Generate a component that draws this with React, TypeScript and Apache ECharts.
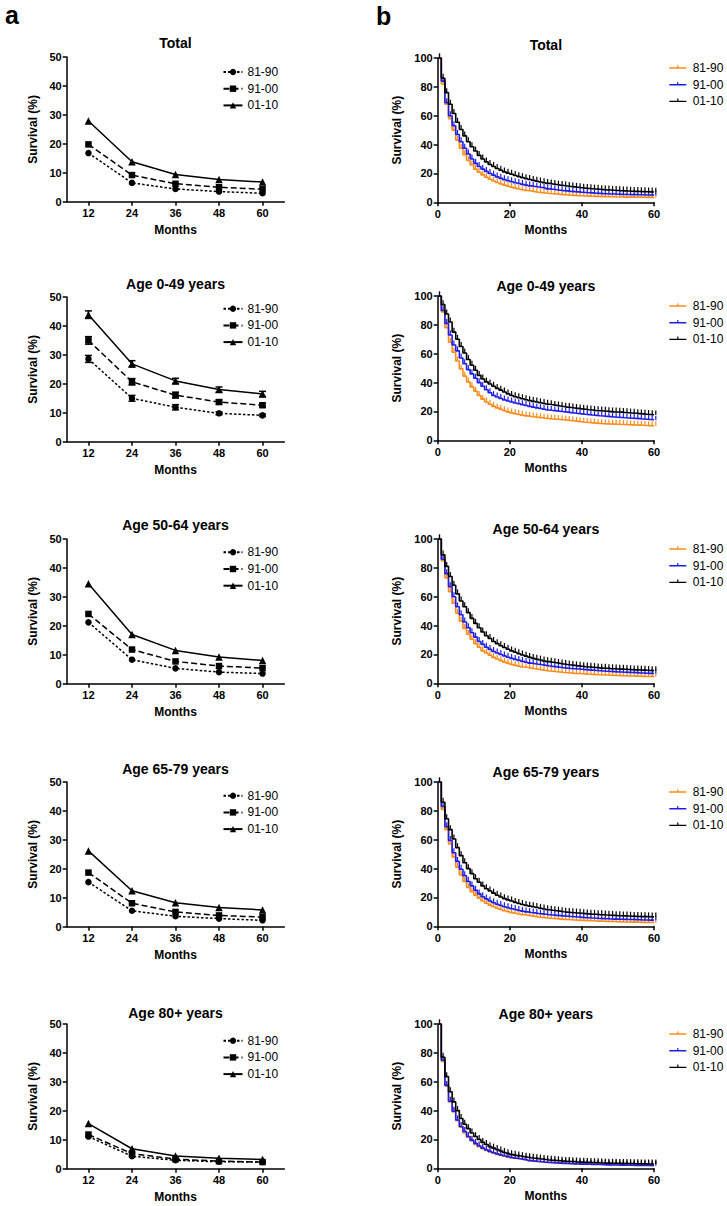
import React, { useEffect, useRef } from "react";
import * as echarts from "echarts";

// ---------- DATA ----------
const PERIODS = ["81-90", "91-00", "01-10"];
const MONTHS_A = ["12", "24", "36", "48", "60"];
const PANEL_TITLES = ["Total", "Age 0-49 years", "Age 50-64 years", "Age 65-79 years", "Age 80+ years"];

// Panel a: survival (%) at 12..60 months
const totalA_8190 = [16.8, 6.5, 4.4, 3.5, 2.9];
const totalA_9100 = [19.8, 9.2, 6.2, 5.0, 4.3];
const totalA_0110 = [27.9, 13.8, 9.4, 7.7, 6.8];

const a049A_8190 = [28.6, 15.0, 11.9, 9.8, 9.1];
const a049A_9100 = [35.0, 20.7, 16.1, 13.7, 12.6];
const a049A_0110 = [43.9, 26.9, 21.0, 18.0, 16.5];
const a049Err_8190 = [1.2, 1.0, 0.9, 0.5, 0.4];
const a049Err_9100 = [1.3, 1.1, 1.0, 0.7, 0.6];
const a049Err_0110 = [1.3, 1.1, 0.9, 0.9, 0.9];

const a5064A_8190 = [21.2, 8.3, 5.3, 4.0, 3.5];
const a5064A_9100 = [24.1, 11.8, 7.7, 6.1, 5.4];
const a5064A_0110 = [34.5, 17.0, 11.5, 9.2, 8.0];

const a6579A_8190 = [15.4, 5.5, 3.6, 2.8, 2.2];
const a6579A_9100 = [18.7, 8.1, 5.1, 3.9, 3.3];
const a6579A_0110 = [26.2, 12.4, 8.3, 6.6, 5.8];

const a80A_8190 = [11.1, 4.3, 2.9, 2.4, 2.3];
const a80A_9100 = [11.8, 5.2, 3.3, 2.6, 2.3];
const a80A_0110 = [15.6, 6.9, 4.4, 3.6, 3.2];

// Panel b: Kaplan-Meier survival (%) for months 0..60 (index = month)
const totalB_8190 = [100, 82, 68, 58, 50, 43, 37.5, 33, 29, 25.8, 23, 20.8, 19, 17.4, 16, 14.8, 13.7, 12.8, 11.9, 11.1, 10.4, 9.8, 9.2, 8.7, 8.2, 7.8, 7.4, 7.0, 6.7, 6.4, 6.1, 5.9, 5.7, 5.5, 5.3, 5.1, 4.9, 4.8, 4.6, 4.5, 4.4, 4.3, 4.2, 4.1, 4.0, 3.9, 3.9, 3.8, 3.8, 3.7, 3.7, 3.6, 3.6, 3.6, 3.5, 3.5, 3.5, 3.4, 3.4, 3.4, 3.4];
const totalB_9100 = [100, 84, 69, 60, 53, 47, 42, 37.5, 33.5, 30, 27, 24.8, 23, 21.4, 20, 18.8, 17.6, 16.6, 15.7, 14.9, 14.2, 13.6, 13, 12.4, 11.9, 11.4, 11, 10.6, 10.2, 9.8, 9.3, 9.0, 8.7, 8.4, 8.1, 7.9, 7.6, 7.4, 7.2, 7.0, 6.8, 6.6, 6.5, 6.3, 6.2, 6.0, 5.9, 5.8, 5.7, 5.6, 5.5, 5.4, 5.4, 5.3, 5.3, 5.2, 5.2, 5.1, 5.1, 5.0, 5.0];
const totalB_0110 = [100, 86, 76, 68, 61.5, 55.5, 50.5, 46, 42, 38.5, 35.5, 32.5, 30, 28, 26.2, 24.8, 23.4, 22.2, 21.1, 20.2, 19.4, 18.6, 17.8, 17.1, 16.4, 15.8, 15.2, 14.6, 14.1, 13.6, 13.1, 12.7, 12.3, 11.9, 11.6, 11.3, 11.0, 10.7, 10.4, 10.1, 9.8, 9.6, 9.4, 9.2, 9.0, 8.8, 8.6, 8.5, 8.3, 8.2, 8.0, 7.9, 7.8, 7.7, 7.6, 7.5, 7.4, 7.3, 7.2, 7.1, 7.0];

const a049B_8190 = [100, 89, 78, 68, 61, 55, 49.5, 44.5, 40.5, 37, 34, 31, 28.5, 26.5, 25, 23.5, 22.5, 21.5, 20.5, 19.7, 19, 18.4, 17.9, 17.4, 16.9, 16.5, 16.2, 15.9, 15.6, 15.3, 15, 14.8, 14.6, 14.4, 14.2, 14, 13.7, 13.4, 13.1, 12.8, 12.5, 12.3, 12.1, 11.9, 11.7, 11.5, 11.4, 11.3, 11.2, 11.1, 11, 10.9, 10.8, 10.7, 10.6, 10.5, 10.4, 10.3, 10.2, 10.1, 10];
const a049B_9100 = [100, 90, 81, 73, 66, 62, 57, 53, 49, 46, 43, 40, 37.5, 35, 33, 31, 30, 29, 28, 27.2, 26.5, 25.9, 25.3, 24.7, 24.1, 23.5, 23, 22.5, 22, 21.5, 21, 20.7, 20.4, 20.1, 19.8, 19.5, 19.2, 18.9, 18.6, 18.3, 18, 17.8, 17.5, 17.3, 17, 16.8, 16.6, 16.4, 16.2, 16, 15.8, 15.6, 15.5, 15.3, 15.2, 15, 14.8, 14.6, 14.4, 14.2, 14];
const a049B_0110 = [100, 94, 87.5, 82, 75, 70, 65, 60.5, 56, 52, 48.5, 45, 42.5, 40.5, 39, 37.5, 36, 34.8, 33.5, 32.2, 31, 30.2, 29.5, 28.8, 28.1, 27.5, 27, 26.5, 26, 25.5, 25, 24.6, 24.2, 23.8, 23.4, 23, 22.7, 22.4, 22.1, 21.8, 21.5, 21.2, 21, 20.7, 20.5, 20.3, 20.1, 19.9, 19.7, 19.6, 19.5, 19.3, 19.1, 18.9, 18.7, 18.5, 18.3, 18.1, 17.9, 17.7, 17.5];

const a5064B_8190 = [100, 85, 73, 63.5, 55.5, 48.5, 43, 38, 34, 30.5, 27.5, 25, 22.5, 21, 19.5, 18, 16.8, 15.7, 14.7, 13.8, 13, 12.4, 11.8, 11.3, 10.9, 10.5, 10.1, 9.7, 9.3, 8.9, 8.5, 8.3, 8.0, 7.8, 7.5, 7.3, 7.1, 6.9, 6.8, 6.6, 6.5, 6.3, 6.2, 6.0, 5.9, 5.8, 5.7, 5.6, 5.5, 5.4, 5.3, 5.2, 5.1, 5.1, 5.0, 4.9, 4.8, 4.7, 4.7, 4.6, 4.5];
const a5064B_9100 = [100, 86, 76, 67, 60, 53, 47.5, 42.5, 38.5, 35, 32, 29, 27, 25, 23.5, 22, 21, 20, 19, 18.1, 17.3, 16.6, 15.9, 15.2, 14.6, 14, 13.6, 13.2, 12.8, 12.4, 12, 11.7, 11.4, 11.1, 10.8, 10.5, 10.3, 10.1, 9.9, 9.7, 9.5, 9.3, 9.1, 8.9, 8.7, 8.5, 8.4, 8.2, 8.1, 7.9, 7.8, 7.7, 7.6, 7.5, 7.4, 7.2, 7.1, 7.0, 6.9, 6.9, 6.8];
const a5064B_0110 = [100, 89, 81, 74, 68, 62, 57, 53, 49, 45, 41.5, 38.5, 35.5, 33, 31, 29, 27.5, 26, 24.8, 23.6, 22.5, 21.5, 20.5, 19.6, 18.8, 18, 17.3, 16.7, 16.1, 15.5, 15, 14.6, 14.2, 13.8, 13.4, 13, 12.7, 12.4, 12.1, 11.8, 11.5, 11.3, 11.1, 10.9, 10.7, 10.5, 10.4, 10.2, 10.1, 9.9, 9.8, 9.7, 9.6, 9.4, 9.3, 9.2, 9.1, 9.0, 8.9, 8.8, 8.7];

const a6579B_8190 = [100, 81, 67, 57, 48, 41, 35.5, 31, 27, 24, 21.5, 19.5, 17.5, 16, 14.7, 13.5, 12.5, 11.6, 10.8, 10.1, 9.5, 9.0, 8.5, 8.0, 7.6, 7.2, 6.9, 6.5, 6.2, 5.9, 5.6, 5.4, 5.2, 5.0, 4.8, 4.7, 4.5, 4.4, 4.2, 4.1, 4.0, 3.9, 3.8, 3.7, 3.6, 3.5, 3.4, 3.3, 3.3, 3.2, 3.1, 3.0, 3.0, 2.9, 2.9, 2.8, 2.7, 2.7, 2.6, 2.6, 2.5];
const a6579B_9100 = [100, 83, 69, 59.5, 51, 45, 39.5, 35, 31, 28, 25, 22.5, 20.5, 19, 17.5, 16.3, 15.3, 14.4, 13.6, 12.9, 12.2, 11.6, 11.0, 10.5, 10.0, 9.6, 9.3, 8.9, 8.6, 8.3, 8.0, 7.8, 7.6, 7.4, 7.2, 7.0, 6.8, 6.6, 6.4, 6.2, 6.0, 5.9, 5.7, 5.6, 5.4, 5.3, 5.2, 5.1, 5.0, 5.0, 4.9, 4.8, 4.7, 4.7, 4.6, 4.5, 4.4, 4.4, 4.3, 4.3, 4.2];
const a6579B_0110 = [100, 86, 74.5, 67, 60.5, 54.5, 49, 44, 40, 36.5, 33, 30.5, 28, 26, 24.5, 23, 21.5, 20.3, 19.2, 18.3, 17.5, 16.6, 15.8, 15.1, 14.5, 14, 13.5, 13, 12.5, 12, 11.5, 11.1, 10.8, 10.5, 10.1, 9.8, 9.6, 9.4, 9.2, 9.0, 8.8, 8.6, 8.4, 8.3, 8.1, 8.0, 7.8, 7.7, 7.6, 7.4, 7.3, 7.2, 7.1, 7.0, 6.9, 6.8, 6.7, 6.7, 6.6, 6.5, 6.5];

const a80B_8190 = [100, 74, 57, 46, 39, 33, 28.5, 24.5, 21.5, 19, 16.5, 15, 13.5, 12.3, 11.3, 10.4, 9.6, 8.9, 8.3, 7.7, 7.2, 6.8, 6.4, 6.0, 5.7, 5.2, 5.0, 4.8, 4.5, 4.3, 4.1, 4.0, 3.9, 3.8, 3.7, 3.5, 3.4, 3.3, 3.2, 3.2, 3.1, 3.0, 3.0, 2.9, 2.9, 2.8, 2.8, 2.7, 2.7, 2.6, 2.6, 2.6, 2.5, 2.5, 2.5, 2.5, 2.4, 2.4, 2.4, 2.4, 2.4];
const a80B_9100 = [100, 75, 57.5, 46.5, 39.5, 33.5, 29, 25.5, 22, 19.5, 17.3, 15.5, 14, 12.8, 11.7, 10.8, 10, 9.3, 8.7, 8.1, 7.5, 7.0, 6.6, 6.2, 5.8, 5.3, 5.0, 4.7, 4.5, 4.2, 4.0, 3.9, 3.7, 3.6, 3.4, 3.3, 3.2, 3.1, 3.0, 2.9, 2.9, 2.8, 2.7, 2.6, 2.6, 2.5, 2.4, 2.4, 2.3, 2.3, 2.2, 2.2, 2.1, 2.1, 2.0, 2.0, 1.9, 1.9, 1.9, 1.8, 1.8];
const a80B_0110 = [100, 77, 63.5, 53, 46, 40, 34.5, 30.5, 27.5, 24.5, 22, 20, 18, 16.5, 15, 14, 13, 12, 11, 10.2, 9.5, 9.0, 8.5, 8.1, 7.7, 7.3, 7.0, 6.7, 6.4, 6.1, 5.8, 5.6, 5.4, 5.2, 5.0, 4.8, 4.7, 4.6, 4.4, 4.3, 4.2, 4.1, 4.0, 3.9, 3.8, 3.7, 3.6, 3.6, 3.5, 3.5, 3.4, 3.4, 3.3, 3.3, 3.2, 3.2, 3.1, 3.1, 3.0, 3.0, 3.0];

const PANEL_A = [
  [totalA_8190, totalA_9100, totalA_0110],
  [a049A_8190, a049A_9100, a049A_0110],
  [a5064A_8190, a5064A_9100, a5064A_0110],
  [a6579A_8190, a6579A_9100, a6579A_0110],
  [a80A_8190, a80A_9100, a80A_0110],
];
const PANEL_A_ERR: (number[][] | null)[] = [null, [a049Err_8190, a049Err_9100, a049Err_0110], null, null, null];
const PANEL_B = [
  [totalB_8190, totalB_9100, totalB_0110],
  [a049B_8190, a049B_9100, a049B_0110],
  [a5064B_8190, a5064B_9100, a5064B_0110],
  [a6579B_8190, a6579B_9100, a6579B_0110],
  [a80B_8190, a80B_9100, a80B_0110],
];

// ---------- LAYOUT / STYLE ----------
const FONT = "'Liberation Sans', Arial, sans-serif";
const ROW_TOP_A = [57.3, 296.7, 539, 782, 1024.3];
const ROW_TOP_B = [57.7, 296, 539.3, 781.7, 1024];
const TITLE_OFF_A = [14, 13.1, 13.8, 13.3, 11.3];
const TITLE_OFF_B = [13.4, 9.7, 10.4, 10, 9.7];
const LEGEND_OFF_A = [15, 11.7, 13.3, 13.7, 16.7];
const GRID_TOP = 57;
const A_COLORS = ["#000", "#000", "#000"];
const A_DASH: any[] = [[2.5, 2], [6, 3], "solid"];
const A_SYMBOL = ["circle", "rect", "triangle"];
const A_SYMSIZE = [6.5, 6.5, 7.5];
const B_COLORS = ["#FF8C1A", "#1E1EE6", "#000000"];
const B_ICON =
  "path://M0,3.3h17v1.4h-17z M7.9,1.2h1.2v3.5h-1.2z M18.3,0h0.1v0.1h-0.1z M18.3,7.9h0.1v0.1h-0.1z";

const axisCommon = {
  axisLine: { show: true, lineStyle: { color: "#000", width: 1.5 } },
  axisTick: { show: true, length: 4, lineStyle: { color: "#000", width: 1.5 } },
  axisLabel: { color: "#000", fontSize: 11, fontWeight: "bold" as const, fontFamily: FONT },
  splitLine: { show: false },
  nameLocation: "middle" as const,
  nameTextStyle: { color: "#000", fontSize: 12, fontWeight: "bold" as const, fontFamily: FONT },
};

function optionA(row: number): any {
  const gl = 66.7, gw = 217.6;
  const series: any[] = PERIODS.map((p, k) => ({
    name: p,
    type: "line",
    data: PANEL_A[row][k],
    symbol: A_SYMBOL[k],
    symbolSize: A_SYMSIZE[k],
    color: A_COLORS[k],
    itemStyle: { color: "#000" },
    lineStyle: { color: "#000", width: 1.5, type: A_DASH[k] },
    z: 3,
  }));
  const err = PANEL_A_ERR[row];
  if (err) {
    PERIODS.forEach((p, k) => {
      series.push({
        type: "custom",
        data: PANEL_A[row][k].map((v, i) => [i, v - err[k][i], v + err[k][i]]),
        encode: { x: 0, y: [1, 2] },
        z: 2,
        renderItem: (_params: any, api: any) => {
          const i = api.value(0);
          const lo = api.coord([i, api.value(1)]);
          const hi = api.coord([i, api.value(2)]);
          const w = 3.5;
          const st = { stroke: "#000", lineWidth: 1.5 };
          return {
            type: "group",
            children: [
              { type: "line", shape: { x1: lo[0], y1: lo[1], x2: hi[0], y2: hi[1] }, style: st },
              { type: "line", shape: { x1: lo[0] - w, y1: lo[1], x2: lo[0] + w, y2: lo[1] }, style: st },
              { type: "line", shape: { x1: hi[0] - w, y1: hi[1], x2: hi[0] + w, y2: hi[1] }, style: st },
            ],
          };
        },
      });
    });
  }
  const graphic: any[] = [];
  if (row === 0) {
    graphic.push({
      type: "text",
      left: 5,
      top: 2,
      style: { text: "a", font: `bold 25px ${FONT}`, fill: "#000" },
    });
  }
  return {
    animation: false,
    textStyle: { fontFamily: FONT },
    graphic,
    title: {
      text: PANEL_TITLES[row],
      left: gl + gw / 2,
      textAlign: "center",
      top: GRID_TOP - TITLE_OFF_A[row] - 8,
      padding: 0,
      textStyle: { fontSize: 14, fontWeight: "bold", color: "#000", fontFamily: FONT, lineHeight: 16 },
    },
    legend: {
      orient: "vertical",
      left: 222.5,
      top: GRID_TOP + LEGEND_OFF_A[row] - 7,
      padding: 0,
      itemWidth: 19,
      itemHeight: 8,
      itemGap: 2.7,
      data: PERIODS,
      textStyle: { fontSize: 12, color: "#000", fontFamily: FONT, lineHeight: 14 },
    },
    grid: { left: gl, top: GRID_TOP, width: gw, height: 144.7 },
    xAxis: {
      ...axisCommon,
      type: "category",
      data: MONTHS_A,
      boundaryGap: true,
      axisTick: { ...axisCommon.axisTick, alignWithLabel: true },
      axisLabel: { ...axisCommon.axisLabel, margin: 6 },
      name: "Months",
      nameGap: 21,
    },
    yAxis: {
      ...axisCommon,
      type: "value",
      min: 0,
      max: 50,
      interval: 10,
      axisLabel: { ...axisCommon.axisLabel, margin: 5 },
      name: "Survival (%)",
      nameGap: 27,
    },
    series,
  };
}

function optionB(row: number): any {
  const gl = 74.7, gw = 216.3;
  const series: any[] = PERIODS.map((p, k) => ({
    name: p,
    type: "line",
    step: "end",
    data: PANEL_B[row][k].map((v, m) => [m, v]),
    symbol: "rect",
    symbolSize: [1.2, 4.5],
    symbolOffset: [1.8, -2.2],
    color: B_COLORS[k],
    itemStyle: { color: B_COLORS[k] },
    lineStyle: { color: B_COLORS[k], width: 1.6 },
    z: 2 + k,
  }));
  const graphic: any[] = [];
  if (row === 0) {
    graphic.push({
      type: "text",
      left: 13,
      top: 2,
      style: { text: "b", font: `bold 25px ${FONT}`, fill: "#000" },
    });
  }
  return {
    animation: false,
    textStyle: { fontFamily: FONT },
    graphic,
    title: {
      text: PANEL_TITLES[row],
      left: gl + gw / 2,
      textAlign: "center",
      top: GRID_TOP - TITLE_OFF_B[row] - 8,
      padding: 0,
      textStyle: { fontSize: 14, fontWeight: "bold", color: "#000", fontFamily: FONT, lineHeight: 16 },
    },
    legend: {
      orient: "vertical",
      left: 306.3,
      top: GRID_TOP + 10 - 7,
      padding: 0,
      itemWidth: 18.4,
      itemHeight: 8,
      itemGap: 2.7,
      itemStyle: { borderWidth: 0 },
      data: PERIODS.map((p) => ({ name: p, icon: B_ICON })),
      textStyle: { fontSize: 12, color: "#000", fontFamily: FONT, lineHeight: 14 },
    },
    grid: { left: gl, top: GRID_TOP, width: gw, height: 144.3 },
    xAxis: {
      ...axisCommon,
      type: "value",
      min: 0,
      max: 60,
      interval: 20,
      axisLabel: { ...axisCommon.axisLabel, margin: 6 },
      name: "Months",
      nameGap: 22,
    },
    yAxis: {
      ...axisCommon,
      type: "value",
      min: 0,
      max: 100,
      interval: 20,
      axisLabel: { ...axisCommon.axisLabel, margin: 5 },
      name: "Survival (%)",
      nameGap: 28,
    },
    series,
  };
}

function Chart({ option, style }: { option: any; style: React.CSSProperties }) {
  const ref = useRef<HTMLDivElement>(null);
  useEffect(() => {
    if (!ref.current) return;
    const chart = echarts.init(ref.current, undefined, { renderer: "svg" });
    chart.setOption(option);
    return () => chart.dispose();
  }, [option]);
  return <div ref={ref} style={style} />;
}

const OPTIONS_A = PANEL_TITLES.map((_, r) => optionA(r));
const OPTIONS_B = PANEL_TITLES.map((_, r) => optionB(r));

export default function App() {
  return (
    <div style={{ position: "absolute", left: 0, top: 0, width: 727, height: 1206, background: "#fff" }}>
      {PANEL_TITLES.map((t, r) => (
        <React.Fragment key={t}>
          <Chart
            option={OPTIONS_A[r]}
            style={{ position: "absolute", left: 0, top: ROW_TOP_A[r] - GRID_TOP, width: 363, height: 245 }}
          />
          <Chart
            option={OPTIONS_B[r]}
            style={{ position: "absolute", left: 363, top: ROW_TOP_B[r] - GRID_TOP, width: 364, height: 245 }}
          />
        </React.Fragment>
      ))}
    </div>
  );
}
